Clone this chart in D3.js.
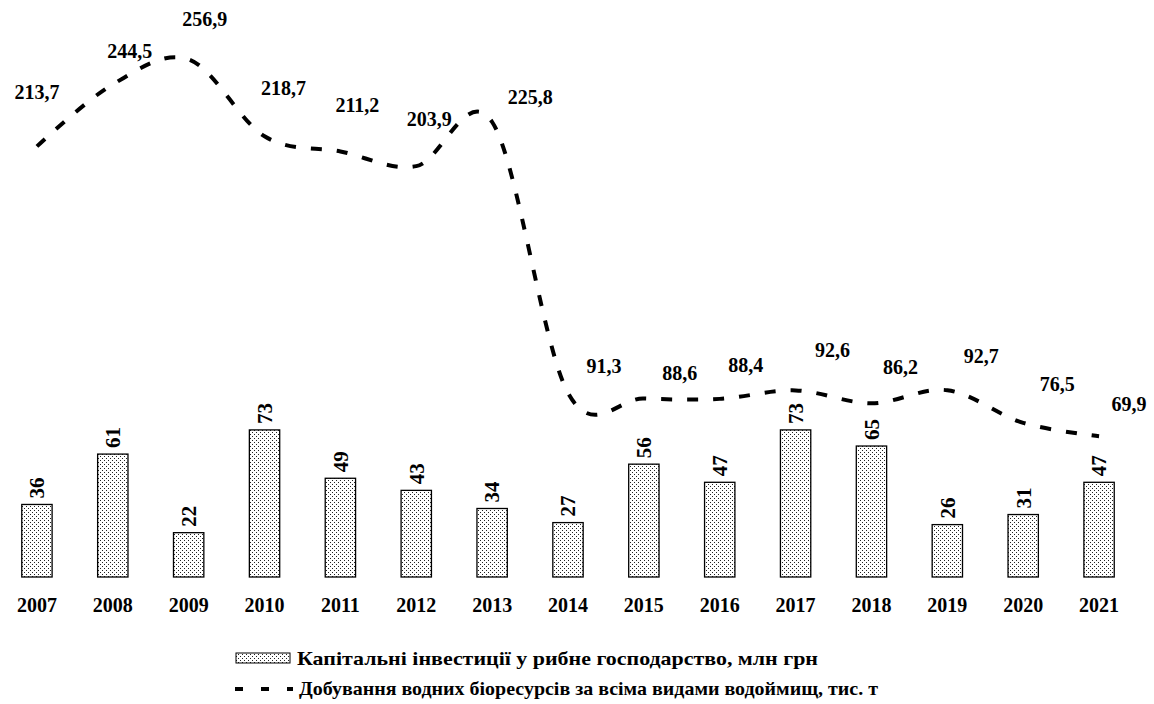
<!DOCTYPE html>
<html>
<head>
<meta charset="utf-8">
<script src="https://cdn.jsdelivr.net/npm/d3@7"></script>
<style>
  html, body { margin: 0; padding: 0; background: #fff; }
  svg { display: block; font-family: "Liberation Serif", "Times New Roman", serif; font-weight: bold; }
</style>
</head>
<body>
<svg id="chart" width="1154" height="704"></svg>
<script>
// ---- data ----
const years = ["2007","2008","2009","2010","2011","2012","2013","2014","2015","2016","2017","2018","2019","2020","2021"];
const investments = [36, 61, 22, 73, 49, 43, 34, 27, 56, 47, 73, 65, 26, 31, 47];
const catch_ = [213.7, 244.5, 256.9, 218.7, 211.2, 203.9, 225.8, 91.3, 88.6, 88.4, 92.6, 86.2, 92.7, 76.5, 69.9];
const seriesNames = ["Капітальні інвестиції у рибне господарство, млн грн",
                     "Добування водних біоресурсів за всіма видами водоймищ, тис. т"];

// ---- layout (label nudges, not data) ----
const lineLabelNudge = [[0,-47],[17,-26],[16,-33],[19,-41],[17,-39],[13,-40],[38,-18],[36,-20],[36,-18],[26,-27],[37,-33],[29,-29],[34,-27],[34,-32],[30,-25]];

const svg = d3.select("#chart");
const fmt = v => String(v).replace(".", ",");

const x = d3.scaleBand().domain(years).range([-1, 1137]).paddingInner(0.6).paddingOuter(0.3);
const y = d3.scaleLinear().domain([0, 280]).range([577, 12.8]);
const cx = d => x(d) + x.bandwidth() / 2;

// dotted pattern
const defs = svg.append("defs");
const pat = defs.append("pattern").attr("id", "dots").attr("patternUnits", "userSpaceOnUse")
  .attr("width", 4).attr("height", 4);
pat.append("rect").attr("width", 4).attr("height", 4).attr("fill", "#fff");
pat.append("rect").attr("x", 0).attr("y", 0).attr("width", 1).attr("height", 1).attr("fill", "#222");
pat.append("rect").attr("x", 2).attr("y", 2).attr("width", 1).attr("height", 1).attr("fill", "#222");

// bars
const data = years.map((yr, i) => ({yr, inv: investments[i], c: catch_[i], nudge: lineLabelNudge[i]}));
svg.append("g").selectAll("rect").data(data).join("rect")
  .attr("x", d => x(d.yr)).attr("width", x.bandwidth())
  .attr("y", d => y(d.inv)).attr("height", d => y(0) - y(d.inv))
  .attr("fill", "url(#dots)").attr("stroke", "#000").attr("stroke-width", 1.3);

// bar labels (rotated)
svg.append("g").selectAll("text").data(data).join("text")
  .attr("transform", d => `translate(${cx(d.yr)},${y(d.inv) - 6}) rotate(-90)`)
  .attr("dy", "0.35em").attr("text-anchor", "start")
  .attr("font-size", 21).text(d => fmt(d.inv));

// line
const line = d3.line().x(d => cx(d.yr)).y(d => y(d.c)).curve(d3.curveCardinal.tension(0));
svg.append("path").datum(data).attr("d", line)
  .attr("fill", "none").attr("stroke", "#000").attr("stroke-width", 4)
  .attr("stroke-dasharray", "11,15");

// line labels
svg.append("g").selectAll("text").data(data).join("text")
  .attr("x", d => cx(d.yr) + d.nudge[0]).attr("y", d => y(d.c) + d.nudge[1])
  .attr("text-anchor", "middle").attr("font-size", 20).text(d => fmt(d.c));

// x axis labels
const xAxis = d3.axisBottom(x).tickSize(0).tickPadding(0);
const gx = svg.append("g").attr("transform", "translate(0,598)").call(xAxis);
gx.select(".domain").remove();
gx.selectAll("text").attr("font-size", 20).attr("font-family", "Liberation Serif, serif")
  .attr("font-weight", "bold").attr("fill", "#000").attr("dy", "0.72em");

// legend
const lg = svg.append("g");
lg.append("rect").attr("x", 236).attr("y", 653).attr("width", 54).attr("height", 10)
  .attr("fill", "url(#dots)").attr("stroke", "#000").attr("stroke-width", 1);
lg.append("text").attr("x", 297).attr("y", 665).attr("font-size", 19)
  .attr("textLength", 521).attr("lengthAdjust", "spacingAndGlyphs").text(seriesNames[0]);
lg.append("line").attr("x1", 235).attr("x2", 293).attr("y1", 689).attr("y2", 689)
  .attr("stroke", "#000").attr("stroke-width", 4).attr("stroke-dasharray", "8,18");
lg.append("text").attr("x", 299).attr("y", 695).attr("font-size", 19)
  .attr("textLength", 579).attr("lengthAdjust", "spacingAndGlyphs").text(seriesNames[1]);
</script>
</body>
</html>
